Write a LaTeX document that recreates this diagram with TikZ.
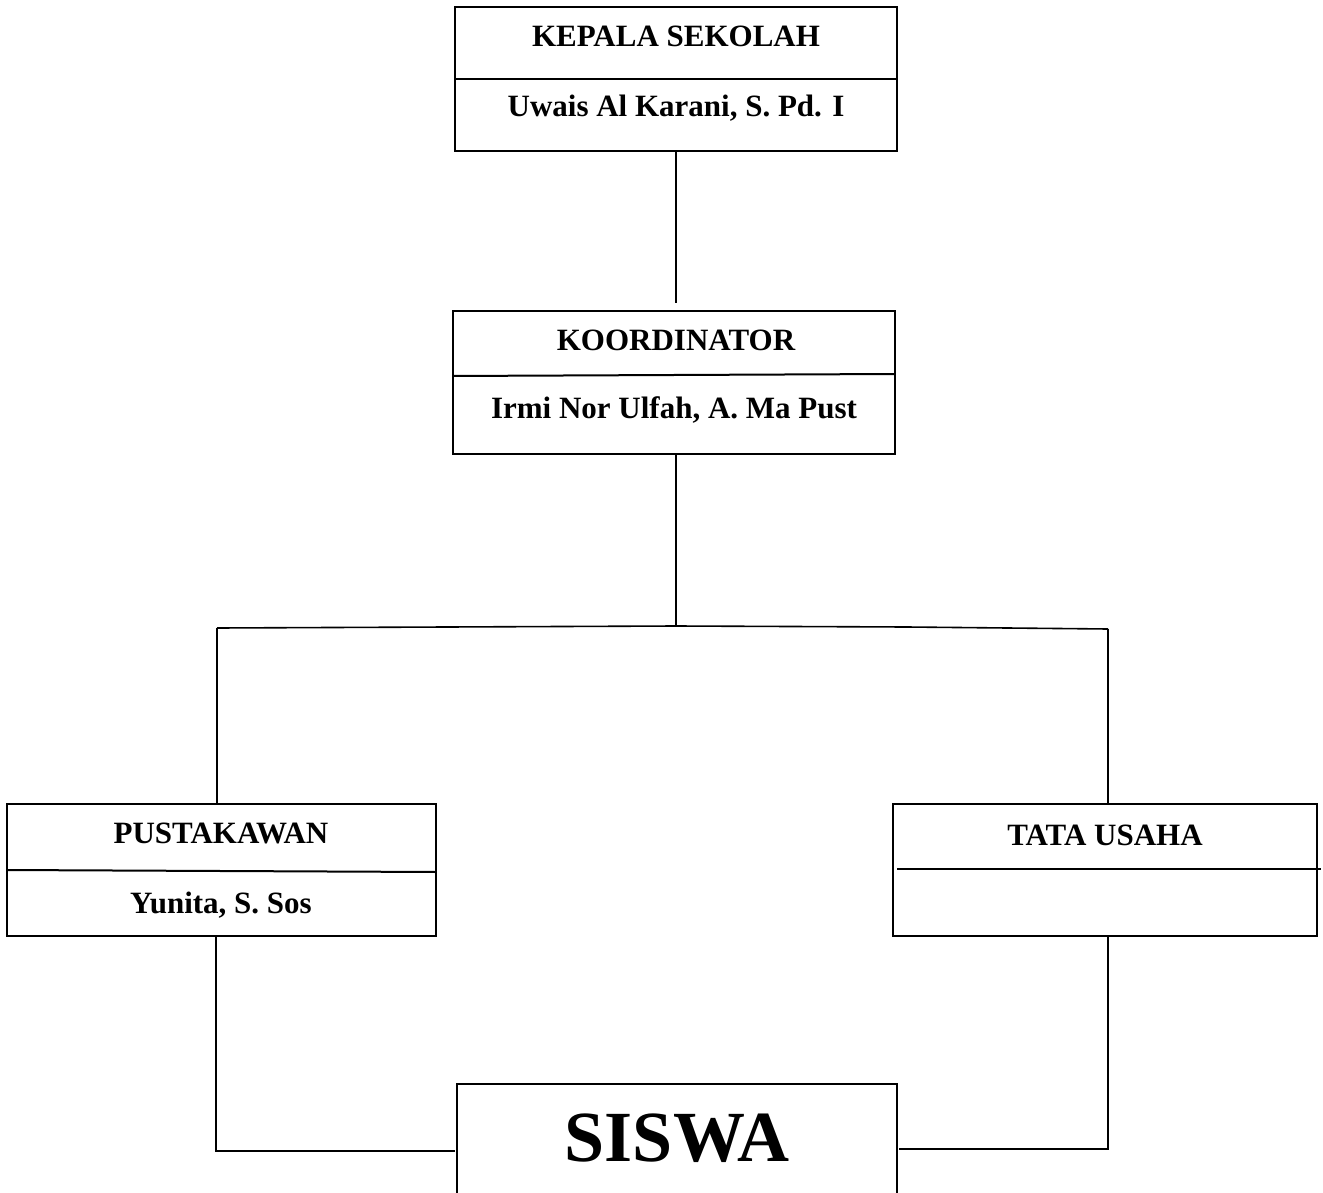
\documentclass[tikz,border=0pt]{standalone}
\usepackage{fontspec}
\setmainfont{Liberation Serif}
\begin{document}
\begin{tikzpicture}[x=1pt,y=-1pt,
  box/.style={draw,line width=1.2pt,rectangle,inner sep=0pt},
  divider/.style={line width=2pt},
  conn/.style={line width=1.6pt},
  lbl/.style={font=\fontsize{31}{36}\selectfont\bfseries,anchor=base,inner sep=0pt},
  big/.style={font=\fontsize{72}{80}\selectfont\bfseries,anchor=base,inner sep=0pt}]
\useasboundingbox (0,0) rectangle (1323,1193);
% boxes
\node[box,minimum width=442,minimum height=144] (kepala) at (676,79) {};
\node[box,minimum width=442,minimum height=143] (koord) at (674,382.5) {};
\node[box,minimum width=429,minimum height=132] (pustaka) at (221.5,870) {};
\node[box,minimum width=424,minimum height=132] (tata) at (1105,870) {};
% siswa open box
\coordinate (sbl) at (457,1200);
\coordinate (stl) at (457,1084);
\coordinate (str) at (897,1084);
\coordinate (sbr) at (897,1200);
\draw[line width=1.2pt] (sbl) -- (stl) -- (str) -- (sbr);
% dividers
\draw[divider] (kepala.west |- 0,79) -- (kepala.east |- 0,79);
\draw[divider] (koord.west |- 0,376) -- (895,374);
\draw[divider] (pustaka.west |- 0,870) -- (436,872);
\draw[divider] (897,869) -- (1321,869);
% texts
\node[lbl] (t1) at (676,47) {KEPALA SEKOLAH};
\node[lbl] (t2) at (676,117) {Uwais Al Karani, S. Pd. I};
\node[lbl] (t3) at (676,350) {KOORDINATOR};
\node[lbl] (t4) at (674,418) {Irmi Nor Ulfah, A. Ma Pust};
\node[lbl] (t5) at (221,843) {PUSTAKAWAN};
\node[lbl] (t6) at (221,913) {Yunita, S. Sos};
\node[lbl] (t7) at (1105,845) {TATA USAHA};
\node[big] (siswa) at (677,1161) {SISWA};
% connectors
\coordinate (c1) at (676,303);
\draw[conn] (kepala.south -| 676,0) -- (c1);
\coordinate (j) at (676,626);
\coordinate (jl) at (217,628);
\coordinate (jm) at (907,627);
\coordinate (jr) at (1108,629);
\draw[conn] (koord.south -| 676,0) -- (j);
\draw[conn] (jl) -- (j) -- (jm) -- (jr);
\draw[conn] (jl) -- (pustaka.north -| jl);
\draw[conn] (jr) -- (tata.north -| jr);
\coordinate (bl) at (216,1151);
\coordinate (br) at (1108,1149);
\draw[conn] (pustaka.south -| bl) -- (bl) -- (455,1151);
\draw[conn] (tata.south -| br) -- (br) -- (899,1149);
\end{tikzpicture}
\end{document}
